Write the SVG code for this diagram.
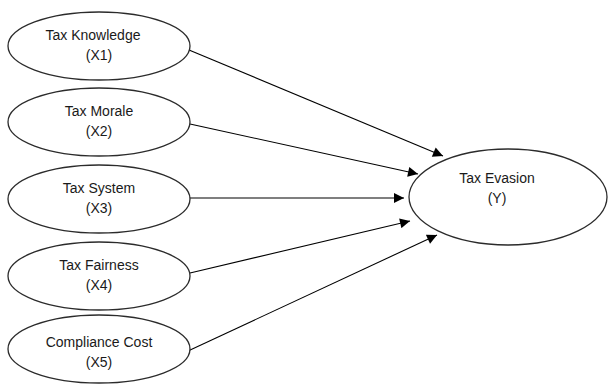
<svg xmlns="http://www.w3.org/2000/svg" width="609" height="385" viewBox="0 0 609 385">
<defs>
<marker id="ah" viewBox="0 0 10 10" refX="10" refY="5" markerWidth="11" markerHeight="10" markerUnits="userSpaceOnUse" orient="auto">
<path d="M0,0 L10,5 L0,10 z" fill="#000"/>
</marker>
<style>
.n ellipse{fill:#fff;stroke:#2b2b2b;stroke-width:1.3}
.n text{font-family:"Liberation Sans",Arial,sans-serif;font-size:14px;fill:#1a1a1a;text-anchor:middle}
.c line{stroke:#000;stroke-width:1.1;marker-end:url(#ah)}
</style>
</defs>
<rect width="609" height="385" fill="#fff"/>
<g id="connectors" class="c">
<line x1="189" y1="50" x2="443" y2="156"/>
<line x1="190" y1="124" x2="418" y2="174"/>
<line x1="190" y1="198" x2="404" y2="198"/>
<line x1="190" y1="273" x2="410" y2="221"/>
<line x1="188" y1="351" x2="437" y2="235"/>
</g>
<g id="x1" class="n"><ellipse cx="99" cy="46" rx="91" ry="34"/><text x="93" y="40">Tax Knowledge</text><text x="99" y="60">(X1)</text></g>
<g id="x2" class="n"><ellipse cx="99" cy="122" rx="91" ry="34"/><text x="99" y="116">Tax Morale</text><text x="99" y="136">(X2)</text></g>
<g id="x3" class="n"><ellipse cx="99" cy="199" rx="91" ry="34"/><text x="99" y="193">Tax System</text><text x="99" y="213">(X3)</text></g>
<g id="x4" class="n"><ellipse cx="99" cy="276" rx="91" ry="34"/><text x="99" y="270">Tax Fairness</text><text x="99" y="290">(X4)</text></g>
<g id="x5" class="n"><ellipse cx="99" cy="349" rx="91" ry="34"/><text x="99" y="347">Compliance Cost</text><text x="99" y="367">(X5)</text></g>
<g id="y" class="n"><ellipse cx="508" cy="197" rx="99" ry="48"/><text x="497" y="183">Tax Evasion</text><text x="497" y="203">(Y)</text></g>
</svg>
